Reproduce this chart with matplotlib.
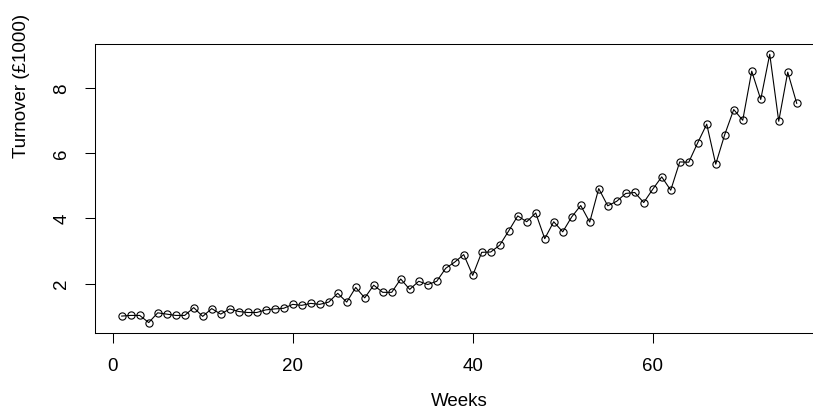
import matplotlib
matplotlib.use('Agg')
import matplotlib.pyplot as plt

# --- Data ---
weeks = list(range(1, 77))
turnover = [1.00, 1.02, 1.02, 0.80, 1.10, 1.06, 1.02, 1.02, 1.26, 0.99,
            1.23, 1.06, 1.22, 1.14, 1.11, 1.11, 1.19, 1.22, 1.24, 1.36,
            1.33, 1.39, 1.36, 1.43, 1.70, 1.43, 1.88, 1.56, 1.95, 1.73,
            1.73, 2.14, 1.82, 2.07, 1.97, 2.07, 2.47, 2.66, 2.89, 2.25,
            2.96, 2.97, 3.18, 3.62, 4.08, 3.90, 4.17, 3.38, 3.90, 3.59,
            4.05, 4.40, 3.89, 4.92, 4.39, 4.53, 4.77, 4.80, 4.49, 4.90,
            5.28, 4.87, 5.74, 5.73, 6.33, 6.90, 5.67, 6.58, 7.35, 7.02,
            8.53, 7.66, 9.05, 6.99, 8.50, 7.54]
x_ticks = [0, 20, 40, 60]
y_ticks = [2, 4, 6, 8]

plt.rcParams['font.family'] = ['Liberation Sans', 'DejaVu Sans']

fig = plt.figure(figsize=(8.13, 4.18), dpi=100)
# plot box runs past the right edge of the picture, as in the reference
ax = fig.add_axes([0.1165, 0.2026, 0.8967, 0.6933])

ax.plot(weeks, turnover, color='black', linewidth=0.8,
        marker='o', markersize=5.2, markerfacecolor='none',
        markeredgecolor='black', markeredgewidth=0.8)

# R-style 4% padding on both axes
xr = weeks[-1] - weeks[0]
ax.set_xlim(weeks[0] - 0.04 * xr, weeks[-1] + 0.04 * xr)
yr = max(turnover) - min(turnover)
ax.set_ylim(min(turnover) - 0.04 * yr, max(turnover) + 0.04 * yr)

ax.set_xticks(x_ticks)
ax.set_yticks(y_ticks)
ax.set_yticklabels([str(v) for v in y_ticks], rotation=90, va='center')
ax.tick_params(direction='out', length=7.2, width=0.75, pad=10.5,
               labelsize=13.5, colors='black')
for s in ax.spines.values():
    s.set_linewidth(0.75)
    s.set_color('black')

fig.text(459 / 813, 1 - 402 / 418, 'Weeks', ha='center', va='center', fontsize=13.5)
fig.text(21 / 813, 1 - 86 / 418, 'Turnover (£1000)', ha='center', va='center',
         rotation=90, fontsize=13.5)

fig.savefig('out.png', dpi=100)
